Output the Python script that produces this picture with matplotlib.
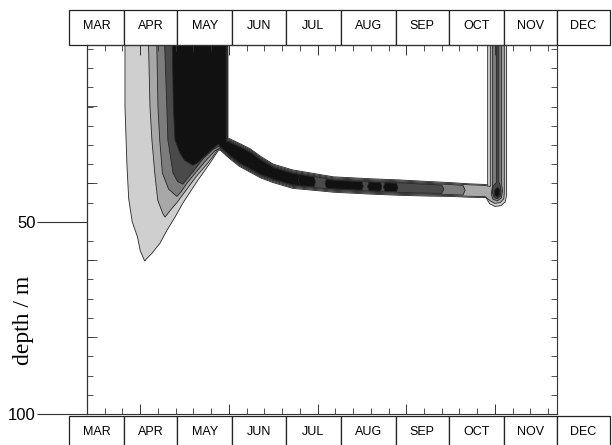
import numpy as np
import matplotlib.pyplot as plt
import matplotlib.transforms as mtransforms
from matplotlib.patches import Rectangle
from matplotlib.ticker import MultipleLocator, FixedLocator

plt.rcParams['font.family'] = ['Liberation Sans', 'DejaVu Sans']

months = ["MAR", "APR", "MAY", "JUN", "JUL", "AUG", "SEP", "OCT", "NOV", "DEC"]
month_edges = [60, 91, 121, 152, 182, 213, 244, 274, 305, 335, 365]

# outer edges of the subsurface layer (day of year / depth in m)
band_day = [145, 150, 156, 162, 168, 175, 186, 200, 209, 230, 246, 262, 275, 285, 295]
band_top = [28.0, 28.3, 29.6, 31.0, 33.0, 35.0, 36.5, 37.6, 38.3, 38.8, 39.1, 39.5, 39.8, 40.1, 40.3]
band_bot = [31.3, 33.4, 35.6, 37.1, 38.6, 39.8, 41.3, 41.9, 42.3, 42.8, 43.1, 43.3, 43.4, 43.6, 43.7]

# spring bloom outline of every contour level (top left, down, round the bottom, up to the layer)
bloom1_day = [91.4, 91.4, 92.5, 93.5, 95.5, 98.5, 100.0, 102.5, 103.8, 106.6, 111.1, 115.1, 119.6,
              124.1, 129.2, 132.5, 136.5, 140.4, 143.8]
bloom1_depth = [0, 20, 35, 44, 50, 54, 57.5, 60.2, 59.5, 58.2, 55.6, 52.2, 48.8,
                45.1, 41.5, 39.2, 36.6, 34.0, 31.6]
bloom2_day = [104.5, 105.5, 106.6, 108.2, 109.9, 112.7, 114.0, 117.0, 120.7, 126.3, 132.0, 137.6, 141.0, 143.5]
bloom2_depth = [0, 20, 28.7, 37.3, 44.4, 47.8, 48.8, 47.0, 45.0, 41.5, 38.0, 35.0, 33.0, 31.3]
bloom3_day = [109.2, 110.0, 111.0, 112.5, 116.0, 120.7, 123.0, 126.3, 132.0, 137.6, 142.0]
bloom3_depth = [0, 20, 28.7, 37.3, 41.5, 43.4, 42.2, 40.0, 36.8, 33.8, 31.6]
bloom4_day = [113.5, 115.0, 115.6, 118.5, 121.0, 124.0, 127.0, 129.7, 135.4, 141.0, 144.0]
bloom4_depth = [0, 20, 28.7, 37.3, 39.5, 40.2, 38.5, 37.0, 33.6, 31.2, 30.4]
bloom5_day = [117.9, 118.7, 119.6, 122.4, 125.0, 129.7, 132.5, 135.4, 140.4, 144.0]
bloom5_depth = [0, 20, 28.7, 32.1, 34.0, 35.3, 34.6, 33.3, 31.2, 29.8]
bloom_right = [149.5, 149.2, 149.0, 148.8, 148.5]

# how far each level sits inside the layer edges, and where it ends
band_inset = [0.0, 0.25, 0.5, 0.75, 0.9]
band_end = [295, 294.5, 282, 270, 192]

# late October column near the surface
vert1_day = [297.0, 300.0, 303.5, 305.8, 306.6, 306.6, 295.9, 295.9]
vert1_depth = [45.3, 46.0, 45.8, 44.8, 43.0, 0, 0, 40.5]
vert2_day = [297.5, 300.0, 303.0, 305.0, 305.3, 305.3, 297.4, 297.4]
vert2_depth = [44.6, 45.2, 45.0, 44.0, 42.5, 0, 0, 40.8]
vert3_day = [298.7, 298.7, 297.9, 299.0, 301.5, 303.6, 304.3, 303.8, 303.8]
vert3_depth = [0, 40.6, 42.8, 44.2, 44.5, 43.8, 42.0, 40.4, 0]
vert4_day = [300.8, 300.8, 298.8, 298.6, 299.6, 301.4, 303.0, 303.5, 302.8, 302.2, 302.2]
vert4_depth = [0, 39.8, 40.8, 42.5, 43.7, 44.0, 43.4, 42.0, 40.3, 39.8, 0]
vert5_day = [299.8, 299.9, 301.3, 302.6, 302.8, 301.5]
vert5_depth = [41.8, 43.1, 43.6, 43.0, 41.7, 41.0]

# dark patches inside the layer in summer
blob_start = [190, 205, 229, 238]
blob_end = [198, 225, 235.5, 244.5]

level_colors = ['#cfcfcf', '#a8a8a8', '#7c7c7c', '#4a4a4a', '#111111']
edge = '#262626'

fig = plt.figure(figsize=(6.12, 4.45), dpi=100)
ax = fig.add_axes([87 / 612, 1 - 414 / 445, 470 / 612, 369 / 445])

blooms = [(bloom1_day, bloom1_depth), (bloom2_day, bloom2_depth), (bloom3_day, bloom3_depth),
          (bloom4_day, bloom4_depth), (bloom5_day, bloom5_depth)]
verts = [(vert1_day, vert1_depth), (vert2_day, vert2_depth), (vert3_day, vert3_depth),
         (vert4_day, vert4_depth), (vert5_day, vert5_depth)]
bd = np.array(band_day)
bt = np.array(band_top)
bb = np.array(band_bot)

for k in range(5):
    x = list(blooms[k][0])
    y = list(blooms[k][1])
    ins = band_inset[k]
    end = band_end[k]
    last = x[-1]
    sel = (bd > last) & (bd < end)
    x += list(bd[sel]) + [end]
    y += list(bb[sel] - ins) + [np.interp(end, bd, bb) - ins]
    if k < 2:
        # layer runs into the October column
        x += list(verts[k][0])
        y += list(verts[k][1])
    else:
        x.append(end + 1.2)
        y.append((np.interp(end, bd, bb) + np.interp(end, bd, bt)) / 2)
    up = (bd >= 149.5) & (bd < end)
    x += [end] + list(bd[up][::-1])
    y += [np.interp(end, bd, bt) + ins] + list(bt[up][::-1] + ins)
    x += [bloom_right[k], bloom_right[k]]
    y += [np.interp(bloom_right[k], bd, bt) + ins, 0]
    ax.fill(x, y, fc=level_colors[k], ec=edge, lw=0.6)
    if k >= 2:
        ax.fill(verts[k][0], verts[k][1], fc=level_colors[k], ec=edge, lw=0.6)

for d0, d1 in zip(blob_start, blob_end):
    dd = np.linspace(d0, d1, 6)
    lo = np.interp(dd, bd, bb) - band_inset[4]
    hi = np.interp(dd, bd, bt) + band_inset[4]
    bx = [d0 - 0.8] + list(dd) + [d1 + 0.8] + list(dd[::-1])
    by = [(lo[0] + hi[0]) / 2] + list(lo) + [(lo[-1] + hi[-1]) / 2] + list(hi[::-1])
    ax.fill(bx, by, fc=level_colors[4], ec=edge, lw=0.5)

for s in ax.spines.values():
    s.set_linewidth(0.8)
    s.set_color('#333333')

ax.xaxis.set_major_locator(MultipleLocator(50))
ax.xaxis.set_minor_locator(MultipleLocator(10))
ax.tick_params(axis='x', which='both', direction='in', top=True, bottom=True,
               labelbottom=False, color='#333333')
ax.tick_params(axis='x', which='major', length=7, width=0.7)
ax.tick_params(axis='x', which='minor', length=4, width=0.6)

ax.yaxis.set_major_locator(FixedLocator([50, 100]))
ax.yaxis.set_minor_locator(MultipleLocator(5))
ax.tick_params(axis='y', which='major', direction='out', length=36, width=0.8,
               labelsize=12, pad=1, left=True, right=False, color='#333333')
ax.tick_params(axis='y', which='minor', direction='in', length=4, width=0.6,
               left=True, right=True, color='#333333')
sec = ax.secondary_yaxis('left')
sec.set_yticks([20, 40, 60, 80])
sec.tick_params(direction='in', length=7, width=0.6, labelleft=False, color='#333333')
sec.spines['left'].set_linewidth(0.8)

# month boxes above and below the panel
trans = mtransforms.blended_transform_factory(ax.transData, fig.transFigure)
for i, m in enumerate(months):
    d0, d1 = month_edges[i], month_edges[i + 1]
    for y0, h, ty in [(1 - 45 / 445, 35 / 445, 1 - 26 / 445), (-0.05, 0.05 + 1 - 416 / 445, 1 - 432 / 445)]:
        ax.add_patch(Rectangle((d0, y0), d1 - d0, h, transform=trans, clip_on=False,
                               fc='white', ec='#222222', lw=0.9))
        ax.text((d0 + d1) / 2, ty, m, transform=trans, ha='center', va='center',
                fontsize=9, clip_on=False)

ax.set_xlim(70, 335)
ax.set_ylim(100, 4)

fig.text(24 / 612, 1 - 320 / 445, 'depth / m', rotation=90, ha='center', va='center',
         fontsize=17, family=['Liberation Serif', 'DejaVu Serif'])

fig.savefig('out.png', dpi=100)
